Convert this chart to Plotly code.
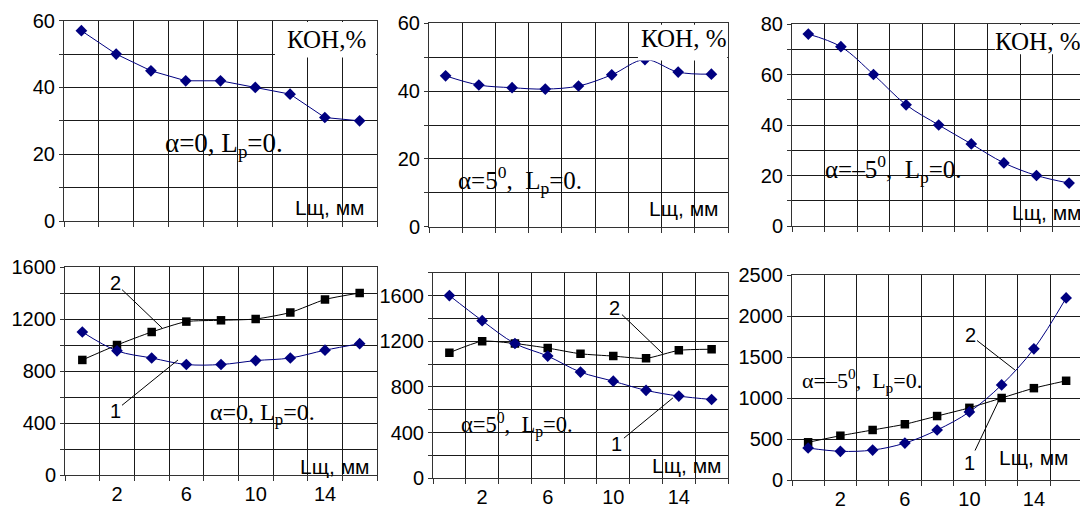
import plotly.graph_objects as go

# ---------------- data ----------------
x_mm = [0, 2, 4, 6, 8, 10, 12, 14, 16]
x_tick_vals = [2, 6, 10, 14]
x_tick_labels = ["2", "6", "10", "14"]
x_grid_vals = [-1, 1, 3, 5, 7, 9, 11, 13, 15, 17]

# top row: KOH, %
kon_a0 = [57, 50, 45, 42, 42, 40, 38, 31, 30]
kon_a5 = [44.5, 41.8, 41, 40.6, 41.5, 44.8, 49.3, 45.6, 45]
kon_am5 = [76, 71, 60, 48, 40, 32.5, 25, 20, 17]

# bottom row
s1_a0 = [1100, 955, 900, 850, 850, 880, 900, 960, 1010]
s2_a0 = [885, 1000, 1100, 1180, 1190, 1200, 1250, 1350, 1400]
s1_a5 = [1600, 1380, 1180, 1070, 930, 850, 770, 720, 690]
s2_a5 = [1100, 1200, 1180, 1140, 1090, 1070, 1050, 1120, 1130]
blue_am5 = [390, 350, 365, 450, 610, 830, 1160, 1600, 2220]
black_am5 = [460, 540, 610, 680, 780, 880, 1000, 1120, 1210]

# y tick labels
y_top60_vals = [0, 20, 40, 60]
y_top60_minor = [10, 30, 50]
y_top80_vals = [0, 20, 40, 60, 80]
y_top80_minor = [10, 30, 50, 70]
y_b1600_vals = [0, 400, 800, 1200, 1600]
y_b1600_minor = [200, 600, 1000, 1400]
y_b1800_minor = [200, 600, 1000, 1400, 1800]
y_b2500_vals = [0, 500, 1000, 1500, 2000, 2500]

kon_label = ["КОН,%", "КОН, %", "КОН, %"]
x_label = "Lщ, мм"
alpha_labels = ["α=0, L<sub>p</sub>=0.",
                "α=5<sup>0</sup>,\u00a0 L<sub>p</sub>=0.",
                "α=–5<sup>0</sup>,\u00a0 L<sub>p</sub>=0."]

NAVY = "#000080"
GRID = "#1a1a1a"
W, H = 1080, 507

fig = go.Figure()

def px_x(p):
    return p / W

def px_y(p):
    return 1 - p / H

# panel geometry (pixels)
panels = [
    ("", (64, 377), (20.7, 221), [-1, 17], [0, 60], y_top60_vals, y_top60_minor, False),
    ("2", (429, 728), (23.3, 226.7), [-1, 17], [0, 60], y_top60_vals, y_top60_minor, False),
    ("3", (792, 1080), (24, 226), [-1, 16.67], [0, 80], y_top80_vals, y_top80_minor, False),
    ("4", (65, 377), (267, 475), [-1, 17], [0, 1600], y_b1600_vals, y_b1600_minor, True),
    ("5", (433, 728), (272.7, 478.3), [-1, 17], [0, 1800], y_b1600_vals, y_b1800_minor, True),
    ("6", (792, 1080), (275, 480), [-1, 16.86], [0, 2500], y_b2500_vals, [], True),
]

tickfont = dict(family="Liberation Sans, Arial", size=20, color="black")
layout_axes = {}
for name, xd, yd, xr, yr, yv, ym, showx in panels:
    xa = dict(
        domain=[px_x(xd[0]), px_x(xd[1])], range=xr, anchor="y" + name,
        tickmode="array", tickvals=x_tick_vals, ticktext=x_tick_labels,
        showticklabels=showx, ticks="", showgrid=False, zeroline=False,
        tickfont=tickfont, ticklabelstandoff=1, automargin=False,
        showline=True, linecolor="#333", linewidth=1, mirror=True,
        minor=dict(tickmode="array", tickvals=x_grid_vals, ticks="outside", ticklen=5,
                   tickcolor="#333", showgrid=True, gridcolor=GRID, gridwidth=1),
        fixedrange=True,
    )
    ya = dict(
        domain=[px_y(yd[1]), px_y(yd[0])], range=yr, anchor="x" + name,
        tickmode="array", tickvals=yv, ticktext=[str(v) for v in yv],
        ticks="outside", ticklen=4, tickcolor="#333", automargin=False,
        showgrid=True, gridcolor=GRID, gridwidth=1, zeroline=False,
        tickfont=tickfont,
        showline=True, linecolor="#333", linewidth=1, mirror=True,
        fixedrange=True,
    )
    if ym:
        ya["minor"] = dict(tickmode="array", tickvals=ym, ticks="outside", ticklen=4,
                           tickcolor="#333", showgrid=True, gridcolor=GRID, gridwidth=1)
    layout_axes["xaxis" + name] = xa
    layout_axes["yaxis" + name] = ya

def blue(y, xa, ya, shape="spline"):
    fig.add_trace(go.Scatter(x=x_mm, y=y, xaxis=xa, yaxis=ya, mode="lines+markers",
                             line=dict(color=NAVY, width=1, shape=shape, smoothing=1),
                             marker=dict(symbol="diamond", size=9, color=NAVY),
                             showlegend=False, hoverinfo="skip"))

def black(y, xa, ya):
    fig.add_trace(go.Scatter(x=x_mm, y=y, xaxis=xa, yaxis=ya, mode="lines+markers",
                             line=dict(color="black", width=1, shape="spline", smoothing=0.6),
                             marker=dict(symbol="square", size=8.5, color="black"),
                             showlegend=False, hoverinfo="skip"))

blue(kon_a0, "x", "y", shape="linear")
blue(kon_a5, "x2", "y2")
blue(kon_am5, "x3", "y3")
black(s2_a0, "x4", "y4")
blue(s1_a0, "x4", "y4")
black(s2_a5, "x5", "y5")
blue(s1_a5, "x5", "y5")
black(black_am5, "x6", "y6")
blue(blue_am5, "x6", "y6")

shapes = []
annotations = []
SERIF = "Liberation Serif, Times New Roman"
SANS = "Liberation Sans, Arial"

# white boxes behind "KOH, %"
box_specs = [("x", "y", 11.13, 16.95, 49, 59.6), ("x2", "y2", 11.58, 16.95, 49, 59.6),
             ("x3", "y3", 11.45, 16.67, 68, 79.6)]
for xr, yr, x0, x1, y0, y1 in box_specs:
    shapes.append(dict(type="rect", xref=xr, yref=yr, x0=x0, x1=x1, y0=y0, y1=y1,
                       fillcolor="white", line=dict(width=0), layer="above"))

def text_px(cx, cy, t, family, size):
    annotations.append(dict(xref="paper", yref="paper", x=px_x(cx), y=px_y(cy), text=t,
                            showarrow=False, xanchor="center", yanchor="middle",
                            font=dict(family=family, size=size, color="black")))

# "KOH, %"
for (cx, cy), t in zip([(326, 40), (684, 39), (1038, 42)], kon_label):
    text_px(cx, cy, t, SERIF, 25)

# alpha labels
for cx, cy, i, sz in [(224, 145, 0, 27), (520, 180, 1, 25), (894, 169, 2, 25),
                      (262, 414, 0, 24), (517, 425, 1, 22.5), (862, 380, 2, 22)]:
    text_px(cx, cy, alpha_labels[i], SERIF, sz)

# x-axis name
for cx, cy in [(330, 207), (684, 208), (1047, 213), (335, 466), (687, 465), (1034, 457)]:
    text_px(cx, cy, x_label, SANS, 21)

# curve number labels with leader lines
leaders = [("x4", "y4", 4.6, 1131, -47, -45, "2"), ("x4", "y4", 5.52, 885, -63, 51, "1"),
           ("x5", "y5", 12.97, 1098, -47, -45, "2"), ("x5", "y5", 13.64, 704, -56, 46, "1"),
           ("x6", "y6", 12.83, 1341, -45, -35, "2"), ("x6", "y6", 11.78, 951, -29, 61, "1")]
for xr, yr, xx, yy, ax, ay, t in leaders:
    annotations.append(dict(xref=xr, yref=yr, x=xx, y=yy, ax=ax, ay=ay, text=t,
                            showarrow=True, arrowhead=0, arrowwidth=1, arrowcolor="black",
                            font=dict(family=SANS, size=20, color="black")))

fig.update_layout(
    width=W, height=H, margin=dict(l=0, r=0, t=0, b=0, autoexpand=False),
    paper_bgcolor="white", plot_bgcolor="white", showlegend=False,
    shapes=shapes, annotations=annotations, **layout_axes,
)

fig.write_html("out.html", config={"displayModeBar": False},
               post_script="document.body.style.margin='0px';")
